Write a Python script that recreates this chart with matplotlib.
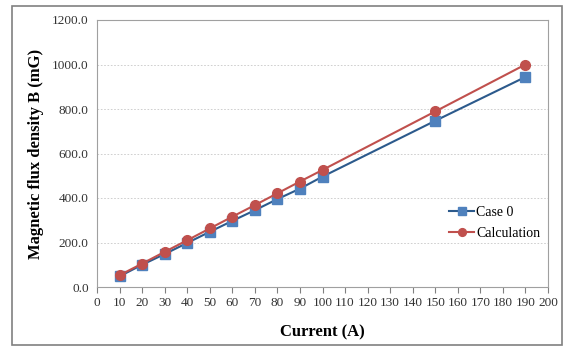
import matplotlib
matplotlib.use('Agg')
import matplotlib.pyplot as plt
from matplotlib.patches import Rectangle

plt.rcParams['font.family'] = ['Liberation Serif', 'DejaVu Serif']

current = [10, 20, 30, 40, 50, 60, 70, 80, 90, 100, 150, 190]
case0 = [48, 100, 148, 198, 248, 297, 345, 395, 442, 496, 747, 944]
calculation = [53, 105, 158, 210, 263, 316, 368, 421, 474, 526, 789, 1000]

fig = plt.figure(figsize=(5.65, 3.46), dpi=100)
ax = fig.add_axes([97 / 565, 1 - 287 / 346, (548 - 97) / 565, (287 - 20) / 346])

# outer frame around the whole chart
fig.patches.append(Rectangle((12 / 565, 1 / 346), (562 - 12) / 565, (340 - 1) / 346,
                             transform=fig.transFigure, fill=False,
                             edgecolor='#808080', linewidth=1.2))

ax.plot(current, case0, color='#2c5a8c', marker='s', markersize=7,
        markerfacecolor='#4f81bd', markeredgecolor='#4f81bd', linewidth=1.5,
        label='Case 0')
ax.plot(current, calculation, color='#c0504d', marker='o', markersize=7,
        markerfacecolor='#c0504d', markeredgecolor='#c0504d', linewidth=1.5,
        label='Calculation')

ax.set_xlim(0, 200)
ax.set_ylim(0, 1200)
ax.set_xticks(range(0, 201, 10))
ax.set_yticks(range(0, 1201, 200))
ax.set_yticklabels([f'{v:.1f}' for v in range(0, 1201, 200)])
ax.tick_params(axis='x', direction='out', length=4, labelsize=9.5, color='#808080')
ax.tick_params(axis='y', length=0, labelsize=9.5, pad=6)
for lbl in ax.get_xticklabels() + ax.get_yticklabels():
    lbl.set_color('#333333')

ax.grid(axis='y', color='#c8c8c8', linestyle=(0, (2, 2)), linewidth=0.6)
ax.set_axisbelow(True)
for s in ax.spines.values():
    s.set_color('#a0a0a0')

ax.set_xlabel('Current (A)', fontsize=12, fontweight='bold', labelpad=11)
ax.set_ylabel('Magnetic flux density B (mG)', fontsize=12, fontweight='bold', labelpad=6)

ax.legend(loc='lower right', bbox_to_anchor=(1.01, 0.13), frameon=False,
          fontsize=10, handlelength=1.8, handletextpad=0.1, labelspacing=0.55,
          markerscale=0.8)

fig.savefig('out.png', dpi=100)
